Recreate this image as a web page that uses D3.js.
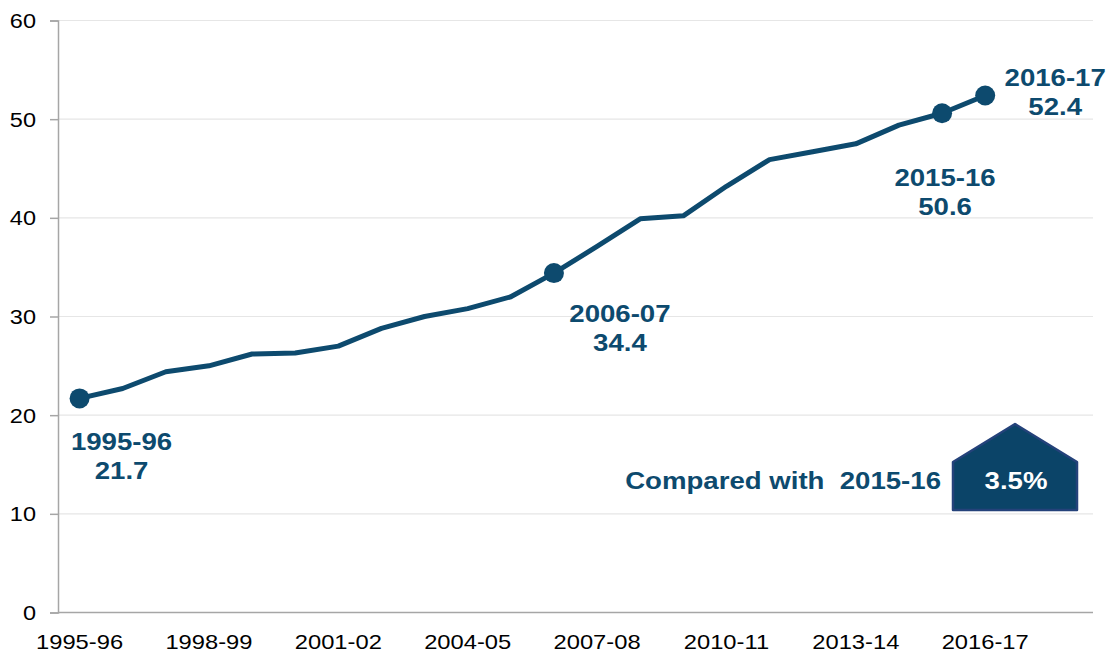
<!DOCTYPE html>
<html>
<head>
<meta charset="utf-8">
<script src="https://cdn.jsdelivr.net/npm/d3@7"></script>
<style>
  body { margin: 0; background: #fff; }
  svg { display: block; font-family: "Liberation Sans", Arial, sans-serif; }
</style>
</head>
<body>
<svg id="chart"></svg>
<script>
// Years shown on the x axis (one value per financial year)
const years = ["1995-96", "1996-97", "1997-98", "1998-99", "1999-00", "2000-01",
  "2001-02", "2002-03", "2003-04", "2004-05", "2005-06", "2006-07", "2007-08",
  "2008-09", "2009-10", "2010-11", "2011-12", "2012-13", "2013-14", "2014-15",
  "2015-16", "2016-17"];
const values = [21.7, 22.7, 24.4, 25.0, 26.2, 26.3, 27.0, 28.8, 30.0, 30.8, 32.0,
  34.4, 37.1, 39.9, 40.2, 43.2, 45.9, 46.7, 47.5, 49.4, 50.6, 52.4];
const yTicks = [0, 10, 20, 30, 40, 50, 60];
const xTickYears = ["1995-96", "1998-99", "2001-02", "2004-05", "2007-08", "2010-11", "2013-14", "2016-17"];
const highlighted = ["1995-96", "2006-07", "2015-16", "2016-17"];
const compareText = "Compared with  2015-16";
const changeText = "3.5%";

const width = 1112;
const height = 654;
const navy = "#0d4a6e";

// label offsets relative to the highlighted dot
const labelOffset = {
  "1995-96": [42, 52],
  "2006-07": [66, 49],
  "2015-16": [3, 73],
  "2016-17": [70, -9]
};

const svg = d3.select("#chart").attr("width", width).attr("height", height);

const x = d3.scaleLinear().domain([-0.5, years.length + 1.5]).range([58, 1093]);
const y = d3.scaleLinear().domain([0, 60]).range([612.5, 20.5]);

// text is a bit wider in the original, so stretch it horizontally
function stretchedText(g, tx, ty, str, opts) {
  const t = g.append("g")
    .attr("transform", `translate(${tx},${ty}) scale(${opts.sx},1)`)
    .append("text")
    .attr("text-anchor", opts.anchor || "middle")
    .attr("font-size", opts.size)
    .attr("font-weight", opts.bold ? "bold" : "normal")
    .attr("fill", opts.fill)
    .style("white-space", "pre")
    .text(str);
  return t;
}

// gridlines
svg.append("g")
  .selectAll("line")
  .data(yTicks.filter(d => d > 0))
  .join("line")
  .attr("x1", x.range()[0]).attr("x2", x.range()[1])
  .attr("y1", d => y(d)).attr("y2", d => y(d))
  .attr("stroke", "#e6e6e6").attr("stroke-width", 1.2);

// y axis
const yAxis = svg.append("g")
  .attr("transform", "translate(58,0)")
  .call(d3.axisLeft(y).tickValues(yTicks).tickSize(8).tickPadding(22).tickFormat(() => ""));
yAxis.select(".domain").attr("stroke", "#a6a6a6").attr("stroke-width", 1.5);
yAxis.selectAll(".tick line").attr("stroke", "#a6a6a6").attr("stroke-width", 1.5);

yTicks.forEach(v => {
  stretchedText(svg, 36, y(v) + 7.5, String(v), { sx: 1.12, size: 21, fill: "#000", anchor: "end" });
});

// x axis
svg.append("line")
  .attr("x1", x.range()[0]).attr("x2", x.range()[1])
  .attr("y1", y(0)).attr("y2", y(0))
  .attr("stroke", "#a6a6a6").attr("stroke-width", 1.5);

xTickYears.forEach(yr => {
  stretchedText(svg, x(years.indexOf(yr)), 649, yr, { sx: 1.13, size: 21, fill: "#000" });
});

// line
const line = d3.line()
  .x((d, i) => x(i))
  .y(d => y(d));

svg.append("path")
  .datum(values)
  .attr("d", line)
  .attr("fill", "none")
  .attr("stroke", navy)
  .attr("stroke-width", 5)
  .attr("stroke-linejoin", "round");

// highlighted dots + labels
highlighted.forEach(yr => {
  const i = years.indexOf(yr);
  const cx = x(i), cy = y(values[i]);
  svg.append("circle")
    .attr("cx", cx).attr("cy", cy).attr("r", 10)
    .attr("fill", navy);
  const [dx, dy] = labelOffset[yr];
  stretchedText(svg, cx + dx, cy + dy, yr, { sx: 1.2, size: 23, bold: true, fill: navy });
  stretchedText(svg, cx + dx, cy + dy + 29, values[i].toFixed(1), { sx: 1.2, size: 23, bold: true, fill: navy });
});

// "Compared with" callout
stretchedText(svg, 941, 489, compareText, { sx: 1.2, size: 23, bold: true, fill: navy, anchor: "end" });

const badge = [[953, 510], [953, 462], [1015, 424], [1077, 462], [1077, 510]];
svg.append("path")
  .attr("d", d3.line()(badge) + "Z")
  .attr("fill", "#0b4468")
  .attr("stroke", "#24427a")
  .attr("stroke-width", 2.5)
  .attr("stroke-linejoin", "round");

stretchedText(svg, 1016, 489, changeText, { sx: 1.2, size: 23, bold: true, fill: "#fff" });
</script>
</body>
</html>
